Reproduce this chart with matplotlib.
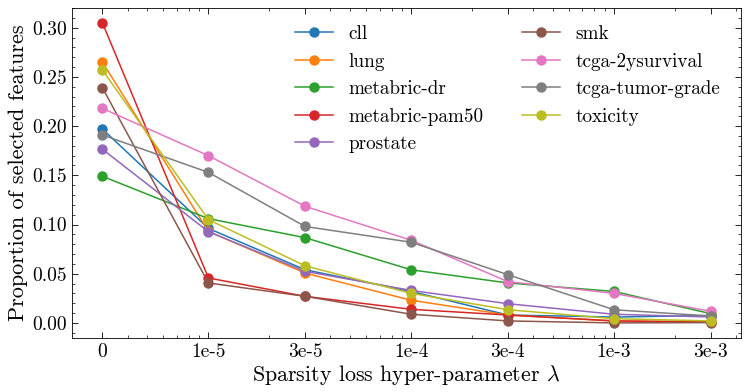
import matplotlib
matplotlib.use('Agg')
import matplotlib.pyplot as plt
import numpy as np

# Estilo parecido com LaTeX
plt.rcParams['font.family'] = 'serif'
plt.rcParams['font.serif'] = ['cmr10', 'DejaVu Serif']
plt.rcParams['mathtext.fontset'] = 'cm'
plt.rcParams['axes.formatter.use_mathtext'] = True
plt.rcParams['axes.unicode_minus'] = False

# Valores de lambda (0 representado por 3e-6 no eixo log)
lambdas = [3e-6, 1e-5, 3e-5, 1e-4, 3e-4, 1e-3, 3e-3]
tick_labels = ['0', '1e-5', '3e-5', '1e-4', '3e-4', '1e-3', '3e-3']

datasets = ['cll', 'lung', 'metabric-dr', 'metabric-pam50', 'prostate',
            'smk', 'tcga-2ysurvival', 'tcga-tumor-grade', 'toxicity']

cll = [0.197, 0.096, 0.054, 0.032, 0.008, 0.006, 0.0075]
lung = [0.265, 0.093, 0.0506, 0.023, 0.008, 0.002, 0.001]
metabric_dr = [0.149, 0.106, 0.0866, 0.054, 0.0406, 0.032, 0.0094]
metabric_pam50 = [0.305, 0.0457, 0.027, 0.0138, 0.008, 0.002, 0.001]
prostate = [0.1765, 0.0927, 0.0524, 0.033, 0.0195, 0.0088, 0.006]
smk = [0.239, 0.0406, 0.027, 0.0088, 0.002, 0.0, 0.0003]
tcga_2ysurvival = [0.218, 0.170, 0.1185, 0.084, 0.042, 0.030, 0.0118]
tcga_tumor_grade = [0.191, 0.153, 0.098, 0.082, 0.049, 0.0134, 0.007]
toxicity = [0.257, 0.105, 0.058, 0.030, 0.0134, 0.0043, 0.002]

series = [cll, lung, metabric_dr, metabric_pam50, prostate,
          smk, tcga_2ysurvival, tcga_tumor_grade, toxicity]

fig, ax = plt.subplots(figsize=(7.47, 3.92), dpi=100)
fig.subplots_adjust(left=0.0964, right=0.992, top=0.980, bottom=0.138)

for nome, valores in zip(datasets, series):
    ax.plot(lambdas, valores, marker='o', markersize=6.5, linewidth=1.1, label=nome)

ax.set_xscale('log')
ax.set_xticks(lambdas)
ax.set_xticklabels(tick_labels)
ax.set_yticks(np.arange(0, 0.31, 0.05))
ax.yaxis.set_minor_locator(matplotlib.ticker.AutoMinorLocator(5))
ax.xaxis.set_minor_locator(matplotlib.ticker.LogLocator(base=10, subs=np.arange(2, 10) * 1.0, numticks=20))
ax.xaxis.set_minor_formatter(matplotlib.ticker.NullFormatter())
ax.yaxis.set_major_formatter(matplotlib.ticker.FormatStrFormatter('%.2f'))

ax.tick_params(which='both', direction='in', top=True, right=True, labelsize=14)
ax.tick_params(which='major', length=4, width=0.6)
ax.tick_params(which='minor', length=2, width=0.5)
for s in ax.spines.values():
    s.set_linewidth(0.6)

ax.set_xlabel(r'Sparsity loss hyper-parameter $\lambda$', fontsize=15.8, labelpad=2)
ax.set_ylabel('Proportion of selected features', fontsize=16, labelpad=3)

ax.legend(ncol=2, frameon=False, fontsize=13.8, loc='upper right',
          bbox_to_anchor=(0.995, 1.0))

fig.savefig('out.png', dpi=100)
